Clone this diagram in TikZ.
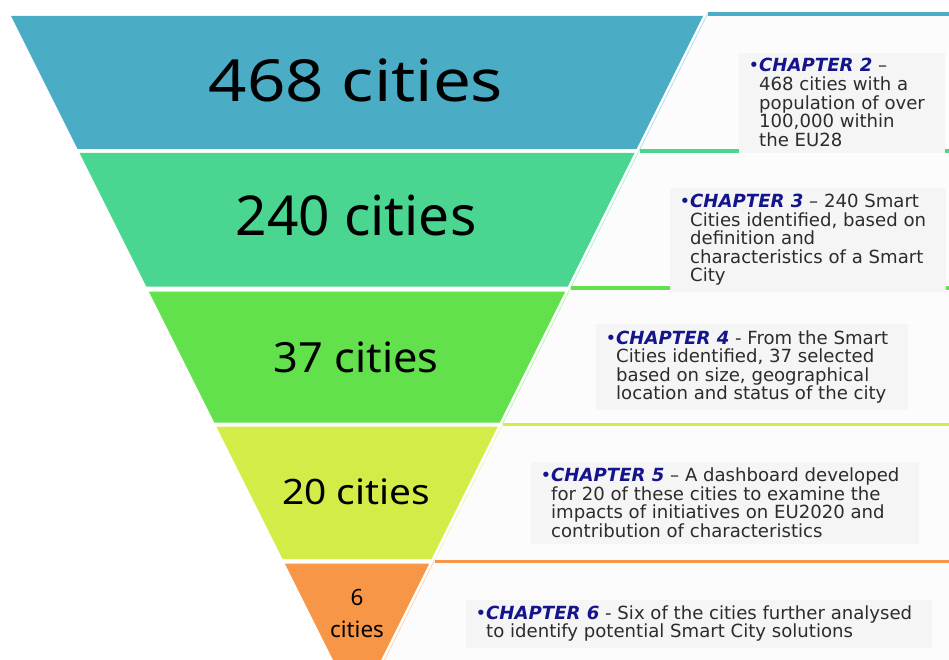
\documentclass[tikz,border=0pt]{standalone}
\usepackage{fontspec}
\usepackage{graphicx}
\setmainfont{DejaVu Sans}
\newfontfamily\countfont{Noto Sans}
\usetikzlibrary{positioning}

\definecolor{bandA}{HTML}{4BACC6}
\definecolor{bandB}{HTML}{4AD691}
\definecolor{bandC}{HTML}{62E14C}
\definecolor{bandD}{HTML}{D4EC47}
\definecolor{bandE}{HTML}{F79646}
\definecolor{chapblue}{HTML}{14148C}
\definecolor{bodygray}{HTML}{2C2C2C}
\definecolor{panelgray}{HTML}{FCFCFC}
\definecolor{textbg}{HTML}{F5F5F5}

\newcommand\chap[1]{\llap{\textcolor{chapblue}{•}}\textcolor{chapblue}{\textbf{\textit{CHAPTER #1}}}}

\begin{document}
\begin{tikzpicture}[x=1pt,y=-1pt,
    count/.style={anchor=base, inner sep=0, text=black, font=\countfont\fontsize{#1}{#1}\selectfont},
    chapter/.style={anchor=base west, align=left, inner xsep=20pt, inner ysep=6pt,
      fill=textbg, text=bodygray, font=\fontsize{18.1}{18.6}\selectfont}]

    \useasboundingbox (0,0) rectangle (949,660);
    \clip (0,0) rectangle (949,660);

    % funnel bands and the panels beside them
    \foreach \t/\b/\c/\lt/\lb in {16/149/bandA/12.3/149.5, 153/286.5/bandB/149.5/286.3,
        291.5/422.5/bandC/286.3/422.5, 426.5/559/bandD/422.5/559.5, 563.5/720/bandE/559.5/720} {
      \fill[\c] ({11+0.5*(\t-16)},\t) -- ({703-0.5*(\t-16)},\t)
        -- ({703-0.5*(\b-16)},\b) -- ({11+0.5*(\b-16)},\b) -- cycle;
      \fill[panelgray] ({706.5-0.5*(\lt-16)},\lt) -- (949,\lt)
        -- (949,\lb) -- ({706.5-0.5*(\lb-16)},\lb) -- cycle;
      \draw[\c!40, line width=0.8pt] ({706.5-0.5*(\lt-16)},\lt) -- ({706.5-0.5*(\lb-16)},\lb);
      \draw[\c, line width=3.5pt] ({706.5-0.5*(\lt-16)},{\lt+1.75}) -- (949,{\lt+1.75});
    }

    % counts
    \node[count=58] (n468) at (356,101.5) {\scalebox{1.16}[1]{468 cities}};
    \node[count=55] (n240) at (356,236) {240 cities};
    \node[count=41.6] (n37) at (356,372.7) {\scalebox{1.04}[1]{37 cities}};
    \node[count=35] (n20) at (356,504) {\scalebox{1.11}[1]{20 cities}};
    \node[count=22.4, align=center, font=\countfont\fontsize{22.4}{32}\selectfont] (n6) at (357,637) {6\\cities};

    % chapters (anchored on the baseline of the last line)
    \node[chapter] (ch2) at (739,146.4) {\chap{2} –\\468 cities with a\\population of over\\100,000 within\\the EU28};
    \node[chapter] (ch3) at (670,281.9) {\chap{3} – 240 Smart\\Cities identified, based on\\definition and\\characteristics of a Smart\\City};
    \node[chapter] (ch4) at (596,399.8) {\chap{4} - From the Smart\\Cities identified, 37 selected\\based on size, geographical\\location and status of the city};
    \node[chapter] (ch5) at (531,537.5) {\chap{5} – A dashboard developed\\for 20 of these cities to examine the\\impacts of initiatives on EU2020 and\\contribution of characteristics};
    \node[chapter] (ch6) at (466,637.9) {\chap{6} - Six of the cities further analysed\\to identify potential Smart City solutions};
\end{tikzpicture}
\end{document}
